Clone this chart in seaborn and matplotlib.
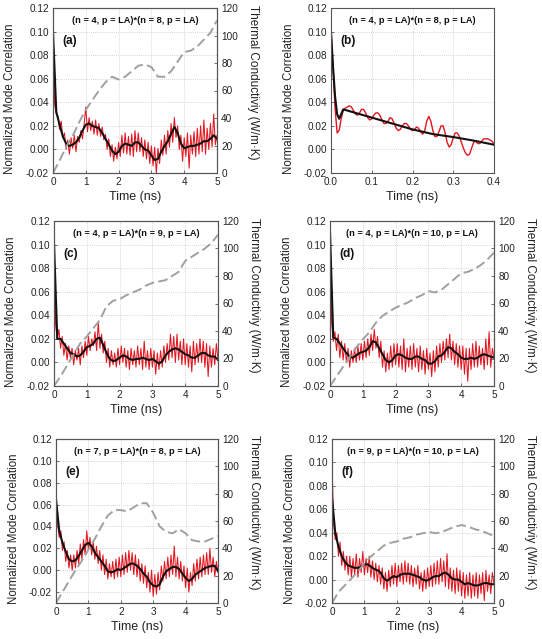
import numpy as np
import matplotlib
matplotlib.use("Agg")
import matplotlib.pyplot as plt
import seaborn as sns

sns.set_theme(style="ticks")
plt.rcParams['font.family'] = ['Liberation Sans', 'DejaVu Sans']

# ---------------- data ----------------
titles = ["(n = 4, p = LA)*(n = 8, p = LA)", "(n = 4, p = LA)*(n = 8, p = LA)",
          "(n = 4, p = LA)*(n = 9, p = LA)", "(n = 4, p = LA)*(n = 10, p = LA)",
          "(n = 7, p = LA)*(n = 8, p = LA)", "(n = 9, p = LA)*(n = 10, p = LA)"]
letters = ["(a)", "(b)", "(c)", "(d)", "(e)", "(f)"]

t_red = np.round(np.arange(0, 5.0001, 0.05), 2)   # time grid of raw correlation (ns)
t_blk = np.round(np.arange(0, 5.0001, 0.1), 2)    # time grid of smoothed correlation
t_k = np.round(np.arange(0, 5.0001, 0.2), 2)      # time grid of conductivity

red_a = [0.100, 0.038, 0.030, 0.028, 0.017, 0.024, 0.010, 0.014, 0.000, 0.008,
         -0.004, 0.010, 0.001, 0.012, -0.002, 0.011, 0.006, 0.016, 0.009, 0.022,
         0.036, 0.015, 0.027, 0.016, 0.024, 0.013, 0.025, 0.012, 0.022, 0.011,
         0.019, 0.008, 0.013, 0.000, 0.009, -0.006, 0.004, -0.010, 0.002, -0.008,
         0.006, -0.006, 0.012, -0.003, 0.014, -0.004, 0.011, -0.005, 0.013, -0.006,
         0.016, -0.002, 0.014, -0.002, 0.010, -0.006, 0.008, -0.008, 0.006, -0.012,
         0.003, -0.014, 0.002, -0.020, 0.001, -0.012, 0.008, -0.005, 0.012, -0.004,
         0.016, 0.002, 0.022, 0.006, 0.027, 0.010, 0.020, 0.000, 0.012, -0.010,
         0.010, -0.006, 0.014, -0.016, 0.012, -0.004, 0.015, -0.006, 0.018, -0.004,
         0.020, -0.002, 0.025, -0.004, 0.018, 0.000, 0.022, 0.002, 0.030, 0.004,
         0.012]
blk_a = [0.100, 0.032, 0.021, 0.011, 0.005, 0.003, 0.004, 0.006, 0.010, 0.016,
         0.021, 0.022, 0.020, 0.019, 0.018, 0.014, 0.009, 0.004, -0.001, -0.004,
         -0.002, 0.003, 0.005, 0.004, 0.003, 0.006, 0.006, 0.003, 0.000, -0.001,
         -0.005, -0.009, -0.008, -0.002, 0.003, 0.007, 0.013, 0.019, 0.014, 0.005,
         0.001, 0.002, 0.003, 0.003, 0.004, 0.005, 0.007, 0.007, 0.009, 0.012,
         0.009]
k_a = [0, 9, 19, 27, 37, 46, 53, 60, 66, 70, 68, 70, 74, 78, 79, 77, 70, 70, 74, 81,
       88, 89, 92, 97, 102, 111]

t_red_b = np.round(np.arange(0, 0.40001, 0.005), 3)
red_b = [0.100, 0.070, 0.035, 0.014, 0.016, 0.026, 0.033, 0.035, 0.036, 0.037,
         0.036, 0.033, 0.030, 0.029, 0.031, 0.034, 0.034, 0.031, 0.027, 0.025,
         0.026, 0.029, 0.031, 0.031, 0.029, 0.025, 0.022, 0.022, 0.024, 0.027,
         0.026, 0.022, 0.018, 0.016, 0.017, 0.020, 0.022, 0.022, 0.020, 0.017,
         0.016, 0.017, 0.019, 0.018, 0.015, 0.013, 0.016, 0.024, 0.028, 0.024,
         0.016, 0.011, 0.011, 0.015, 0.020, 0.020, 0.014, 0.006, 0.002, 0.004,
         0.010, 0.014, 0.014, 0.011, 0.006, 0.001, -0.003, -0.005, -0.004, 0.001,
         0.006, 0.007, 0.005, 0.005, 0.007, 0.009, 0.009, 0.009, 0.008, 0.007,
         0.005]
t_blk_b = [0, 0.005, 0.01, 0.015, 0.02, 0.025, 0.03, 0.05, 0.1, 0.15, 0.2, 0.25, 0.3, 0.35, 0.4]
blk_b = [0.100, 0.070, 0.045, 0.030, 0.026, 0.030, 0.034, 0.032, 0.027, 0.022,
         0.017, 0.013, 0.0105, 0.0075, 0.004]

red_c = [0.102, 0.032, 0.020, 0.028, 0.012, 0.022, 0.006, 0.016, 0.002, 0.014,
         0.004, 0.012, -0.002, 0.010, 0.002, 0.012, -0.002, 0.014, 0.004, 0.018,
         0.006, 0.022, 0.010, 0.020, 0.014, 0.026, 0.010, 0.034, 0.012, 0.024,
         0.008, 0.018, 0.000, 0.012, -0.004, 0.010, -0.002, 0.008, -0.004, 0.012,
         -0.002, 0.014, 0.000, 0.012, -0.004, 0.010, -0.006, 0.012, -0.002, 0.010,
         -0.004, 0.014, -0.002, 0.012, -0.006, 0.018, -0.004, 0.010, -0.006, 0.012,
         -0.004, 0.010, -0.010, 0.008, -0.006, 0.010, -0.004, 0.014, 0.000, 0.016,
         0.002, 0.024, 0.004, 0.022, 0.000, 0.024, 0.002, 0.018, -0.002, 0.020,
         -0.002, 0.016, -0.004, 0.014, -0.008, 0.018, -0.002, 0.016, 0.000, 0.020,
         0.000, 0.018, -0.004, 0.016, -0.012, 0.014, -0.004, 0.012, -0.002, 0.016,
         0.002]
blk_c = [0.102, 0.020, 0.020, 0.016, 0.012, 0.008, 0.007, 0.005, 0.006, 0.009,
         0.013, 0.014, 0.016, 0.020, 0.021, 0.015, 0.008, 0.003, 0.001, 0.002,
         0.004, 0.006, 0.005, 0.003, 0.002, 0.003, 0.003, 0.004, 0.003, 0.002,
         0.003, 0.001, -0.001, 0.001, 0.006, 0.009, 0.011, 0.012, 0.011, 0.009,
         0.007, 0.006, 0.004, 0.004, 0.006, 0.008, 0.008, 0.006, 0.005, 0.005,
         0.002]
k_c = [0, 7, 15, 23, 31, 36, 42, 48, 58, 62, 63, 66, 68, 70, 73, 75, 76, 77, 80, 83,
       91, 94, 97, 100, 104, 110]

red_d = [0.111, 0.034, 0.018, 0.026, 0.010, 0.024, 0.004, 0.018, 0.002, 0.016,
         0.000, 0.012, -0.004, 0.010, 0.000, 0.012, 0.000, 0.014, 0.002, 0.016,
         0.002, 0.018, 0.004, 0.020, 0.006, 0.024, 0.010, 0.028, 0.012, 0.022,
         0.004, 0.018, -0.004, 0.010, -0.008, 0.008, -0.006, 0.014, -0.004, 0.016,
         -0.002, 0.016, -0.004, 0.014, -0.006, 0.020, -0.008, 0.012, -0.004, 0.014,
         -0.006, 0.016, -0.004, 0.012, -0.008, 0.014, -0.006, 0.010, -0.010, 0.012,
         -0.006, 0.008, -0.012, 0.010, -0.008, 0.014, -0.004, 0.016, 0.000, 0.018,
         0.002, 0.020, 0.004, 0.024, 0.002, 0.018, -0.002, 0.016, -0.004, 0.014,
         -0.006, 0.014, -0.010, 0.012, -0.016, 0.012, -0.006, 0.016, -0.004, 0.018,
         -0.004, 0.014, -0.002, 0.012, -0.006, 0.020, -0.002, 0.026, -0.004, 0.012,
         0.004]
blk_d = [0.111, 0.021, 0.020, 0.016, 0.012, 0.008, 0.005, 0.004, 0.006, 0.008,
         0.009, 0.010, 0.013, 0.018, 0.017, 0.012, 0.007, 0.002, 0.000, 0.002,
         0.006, 0.007, 0.006, 0.004, 0.003, 0.003, 0.005, 0.005, 0.003, 0.002,
         -0.001, -0.001, 0.001, 0.005, 0.006, 0.009, 0.013, 0.012, 0.009, 0.007,
         0.004, 0.003, 0.003, 0.004, 0.003, 0.004, 0.006, 0.007, 0.006, 0.005,
         0.004]
k_d = [0, 7, 14, 21, 28, 34, 39, 46, 51, 54, 57, 59, 61, 64, 66, 69, 68, 70, 74, 78,
       82, 83, 85, 88, 92, 97]

red_e = [0.070, 0.042, 0.030, 0.036, 0.018, 0.026, 0.008, 0.018, 0.002, 0.014,
         0.000, 0.014, 0.002, 0.018, 0.006, 0.024, 0.010, 0.028, 0.014, 0.036,
         0.018, 0.030, 0.014, 0.026, 0.010, 0.022, 0.006, 0.018, 0.000, 0.014,
         -0.004, 0.010, -0.008, 0.006, -0.006, 0.008, -0.008, 0.010, -0.006, 0.012,
         -0.006, 0.014, -0.004, 0.016, -0.002, 0.018, 0.000, 0.016, -0.004, 0.014,
         -0.006, 0.010, -0.010, 0.006, -0.012, 0.004, -0.016, -0.002, -0.020, 0.000,
         -0.024, -0.004, -0.022, -0.002, -0.018, 0.004, -0.010, 0.008, -0.008, 0.012,
         -0.006, 0.014, -0.004, 0.022, -0.006, 0.012, -0.008, 0.008, -0.010, 0.004,
         -0.016, 0.002, -0.020, -0.002, -0.014, 0.006, -0.010, 0.010, -0.008, 0.012,
         -0.006, 0.014, -0.004, 0.016, -0.004, 0.020, -0.002, 0.012, -0.006, 0.008,
         -0.002]
blk_e = [0.065, 0.036, 0.025, 0.017, 0.010, 0.008, 0.009, 0.013, 0.018, 0.023,
         0.025, 0.022, 0.016, 0.012, 0.008, 0.004, -0.001, -0.002, -0.001, 0.001,
         0.000, 0.002, 0.004, 0.006, 0.006, 0.004, 0.001, -0.003, -0.006, -0.011,
         -0.014, -0.015, -0.013, -0.006, -0.001, 0.001, 0.003, 0.003, 0.001, -0.003,
         -0.007, -0.010, -0.008, -0.004, -0.002, 0.000, 0.002, 0.003, 0.004, 0.004,
         -0.001]
k_e = [0, 8, 16, 24, 31, 39, 47, 56, 64, 68, 68, 67, 70, 73, 73, 66, 56, 52, 51, 54,
       51, 46, 45, 45, 47, 49]

red_f = [0.100, 0.048, 0.034, 0.040, 0.020, 0.032, 0.012, 0.024, 0.008, 0.020,
         0.004, 0.020, 0.002, 0.018, 0.004, 0.022, 0.002, 0.018, 0.006, 0.024,
         0.004, 0.018, 0.006, 0.020, 0.002, 0.016, 0.000, 0.014, -0.002, 0.012,
         -0.004, 0.010, -0.008, 0.006, -0.010, 0.008, -0.006, 0.012, -0.004, 0.014,
         -0.006, 0.012, -0.002, 0.014, -0.004, 0.016, -0.002, 0.014, -0.004, 0.012,
         -0.006, 0.010, -0.004, 0.012, -0.008, 0.006, -0.010, 0.008, -0.008, 0.010,
         -0.006, 0.012, -0.006, 0.014, -0.004, 0.016, -0.004, 0.018, -0.002, 0.016,
         -0.006, 0.022, -0.008, 0.010, -0.010, 0.008, -0.012, 0.010, -0.010, 0.008,
         -0.014, 0.006, -0.016, 0.004, -0.014, 0.006, -0.016, 0.004, -0.014, 0.006,
         -0.016, 0.004, -0.012, 0.006, -0.018, 0.008, -0.010, 0.004, -0.012, 0.006,
         -0.004]
blk_f = [0.070, 0.040, 0.028, 0.020, 0.015, 0.012, 0.011, 0.010, 0.010, 0.011,
         0.013, 0.013, 0.011, 0.009, 0.008, 0.006, 0.001, -0.001, 0.001, 0.003,
         0.002, 0.004, 0.005, 0.005, 0.005, 0.004, 0.003, 0.002, 0.000, -0.001,
         0.000, 0.002, 0.003, 0.003, 0.005, 0.006, 0.004, 0.001, 0.000, 0.000,
         -0.002, -0.004, -0.003, -0.004, -0.005, -0.005, -0.004, -0.003, -0.003, -0.004,
         -0.004]
k_f = [0, 8, 13, 18, 23, 29, 34, 38, 42, 44, 45, 47, 48, 50, 51, 52, 51, 52, 54, 56,
       57, 56, 54, 53, 51, 49]

yticks = [-0.02, 0.00, 0.02, 0.04, 0.06, 0.08, 0.10, 0.12]
kticks = [0, 20, 40, 60, 80, 100, 120]

# ---------------- layout ----------------
W, H = 542, 639
boxes = [(53, 217, 8, 173), (331, 494, 8, 173),
         (54, 218, 221, 386), (330, 494, 221, 386),
         (56, 218, 439, 603), (332, 494, 439, 603)]

RED = "#e3151e"
BLK = "#111111"
GRY = "#a0a0a0"
SPN = "#555555"

fig = plt.figure(figsize=(W / 100, H / 100), dpi=100)

panels = [
    (t_red, red_a, t_blk, blk_a, k_a, (-0.02, 0.12)),
    (t_red_b, red_b, t_blk_b, blk_b, None, (-0.02, 0.12)),
    (t_red, red_c, t_blk, blk_c, k_c, (-0.02, 0.12)),
    (t_red, red_d, t_blk, blk_d, k_d, (-0.02, 0.12)),
    (t_red, red_e, t_blk, blk_e, k_e, (-0.03, 0.12)),
    (t_red, red_f, t_blk, blk_f, k_f, (-0.02, 0.12)),
]

for i, (box, (tr, yr, tb, yb, kk, ylim)) in enumerate(zip(boxes, panels)):
    l, r, t, b = box
    ax = fig.add_axes([l / W, 1 - b / H, (r - l) / W, (b - t) / H])
    ax.set_axisbelow(True)
    ax.grid(True, color="#c8c8c8", linestyle=(0, (1, 1.5)), linewidth=0.6)
    sns.lineplot(x=tr, y=yr, ax=ax, color=RED, linewidth=1.0 if i == 1 else 0.75,
                 estimator=None, sort=False, legend=False)
    sns.lineplot(x=tb, y=yb, ax=ax, color=BLK, linewidth=1.5,
                 estimator=None, sort=False, legend=False)
    ax.set_ylim(*ylim)
    ax.set_yticks(yticks)
    ax.set_yticklabels([f"{v:.2f}" for v in yticks])
    if i == 1:
        ax.set_xlim(0, 0.4)
        xt = [0.0, 0.1, 0.2, 0.3, 0.4]
        ax.set_xticks(xt)
        ax.set_xticklabels([f"{v:.1f}" for v in xt])
    else:
        ax.set_xlim(0, 5)
        xt = [0, 1, 2, 3, 4, 5]
        ax.set_xticks(xt)
        ax.set_xticklabels([str(v) for v in xt])
    ax.set_xlabel("Time (ns)", fontsize=9, color="#222222", labelpad=3)
    ax.set_ylabel("Normalized Mode Correlation", fontsize=8.3, color="#222222",
                  va="center")
    ax.yaxis.set_label_coords(-0.26, 0.45)
    ax.tick_params(direction="in", length=2.5, width=0.6, colors=SPN,
                   labelcolor="#222222", labelsize=7.2, pad=3)
    for s in ax.spines.values():
        s.set_color(SPN)
        s.set_linewidth(0.8)
    ax.text(0.5, 0.925, titles[i], transform=ax.transAxes, ha="center", va="center",
            fontsize=6.7, fontweight="bold", color="#111111")
    ax.text(0.055, 0.80, letters[i], transform=ax.transAxes, ha="left", va="center",
            fontsize=8.6, fontweight="bold", color="#111111")
    if kk is not None:
        ax2 = ax.twinx()
        sns.lineplot(x=t_k, y=kk, ax=ax2, color=GRY, linewidth=1.4,
                     linestyle=(0, (5, 2.2)), estimator=None, sort=False, legend=False)
        ax2.set_ylim(0, 120)
        ax2.set_yticks(kticks)
        ax2.set_yticklabels([str(v) for v in kticks])
        ax2.set_ylabel("Thermal Conductiviy (W/m\u00b7K)", fontsize=8.5, color="#222222",
                       rotation=270, va="center")
        ax2.yaxis.set_label_coords(1.22, 0.55)
        ax2.tick_params(direction="in", length=2.5, width=0.6, colors=SPN,
                        labelcolor="#222222", labelsize=7.2, pad=3)
        for s in ax2.spines.values():
            s.set_color(SPN)
            s.set_linewidth(0.8)

fig.savefig("out.png", dpi=100)
